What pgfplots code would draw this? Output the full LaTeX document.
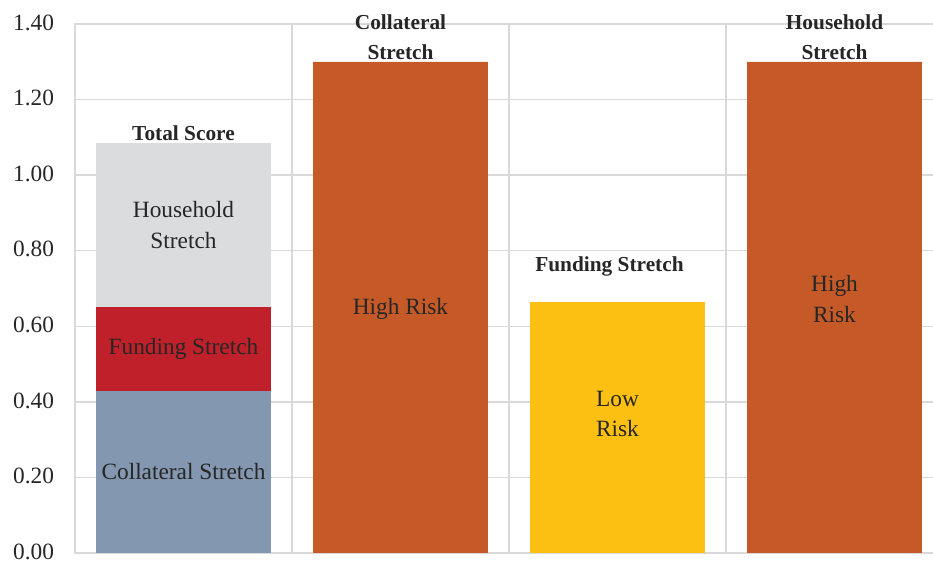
\documentclass[border=0pt]{standalone}
\usepackage{fontspec}
\setmainfont{Liberation Serif}
\usepackage{pgfplots}
\pgfplotsset{compat=1.18}
\definecolor{gridc}{HTML}{D9D9D9}
\definecolor{textc}{HTML}{262626}
\definecolor{orangec}{RGB}{197,90,40}
\definecolor{yellowc}{RGB}{251,192,17}
\definecolor{redc}{RGB}{192,32,41}
\definecolor{bluec}{RGB}{132,151,176}
\definecolor{greyc}{RGB}{219,220,222}
\tikzset{inlab/.style={font=\fontsize{17.5}{23}\selectfont, text=textc, align=center},
  titlab/.style={font=\bfseries\fontsize{16}{22.5}\selectfont, text=textc, align=center}}
\begin{document}
\begin{tikzpicture}
\begin{axis}[name=ax, scale only axis, width=651pt, height=396.75pt,
  xmin=-0.5, xmax=3.5, ymin=0, ymax=1.4,
  ytick={0,0.2,0.4,0.6,0.8,1.0,1.2,1.4},
  xtick={-0.5,0.5,1.5,2.5,3.5}, xticklabels={},
  ybar stacked, bar width=0.806,
  xmajorgrids, ymajorgrids,
  grid style={gridc, line width=1.1pt},
  axis line style={gridc, line width=1.1pt},
  major tick length=0pt, tick style={draw=none},
  yticklabel style={font=\fontsize{17.5}{18}\selectfont, text=textc, inner sep=0pt, xshift=-15.5pt, yshift=1pt},
  /pgf/number format/fixed, /pgf/number format/fixed zerofill, /pgf/number format/precision=2,
  /pgf/number format/assume math mode=true,
  clip=false]
\addplot[fill=bluec, draw=none] coordinates {(0,0.43) (1,0) (2,0) (3,0)};
\addplot[fill=redc, draw=none] coordinates {(0,0.22) (1,0) (2,0) (3,0)};
\addplot[fill=greyc, draw=none] coordinates {(0,0.435) (1,0) (2,0) (3,0)};
\addplot[fill=orangec, draw=none] coordinates {(0,0) (1,1.30) (2,0) (3,1.30)};
\addplot[fill=yellowc, draw=none] coordinates {(0,0) (1,0) (2,0.665) (3,0)};
\coordinate (l1) at (axis cs:0,0.2155);
\coordinate (l2) at (axis cs:0,0.541);
\coordinate (l3) at (axis cs:0,0.868);
\coordinate (l4) at (axis cs:1,0.646);
\coordinate (l5) at (axis cs:2,0.368);
\coordinate (l6) at (axis cs:3,0.672);
\node[titlab, anchor=south, inner sep=1.5pt] at (axis cs:0,1.085) {Total Score};
\node[titlab, anchor=south, inner sep=1.5pt] at (axis cs:1,1.30) {Collateral\\Stretch};
\node[titlab] at (axis cs:1.963,0.758) {Funding Stretch};
\node[titlab, anchor=south, inner sep=1.5pt] at (axis cs:3,1.30) {Household\\Stretch};
\end{axis}
\node[inlab] at (l1) {Collateral Stretch};
\node[inlab] at (l2) {Funding Stretch};
\node[inlab] at (l3) {Household\\Stretch};
\node[inlab] at (l4) {High Risk};
\node[inlab] at (l5) {Low\\Risk};
\node[inlab] at (l6) {High\\Risk};
\pgfresetboundingbox
\path ([xshift=-56.25pt, yshift=-6.75pt]ax.south west) rectangle ([xshift=-7.5pt, yshift=18pt]ax.north east);
\end{tikzpicture}
\end{document}
